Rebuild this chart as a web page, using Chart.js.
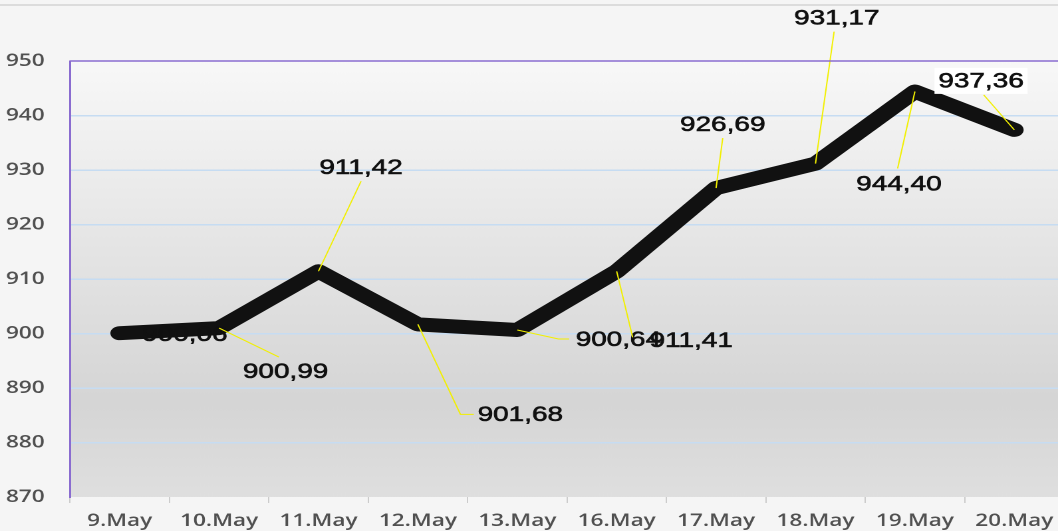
<!DOCTYPE html>
<html>
<head>
  <title>Index</title>
  <script src="https://cdn.jsdelivr.net/npm/chart.js@4"></script>
  <style>
body {
  margin: 0;
  background: #f5f5f5;
  overflow: hidden;
}

.top-rule {
  position: absolute;
  left: 0;
  top: 4px;
  width: 1058px;
  height: 2px;
  background: #dcdcdc;
}

/* the reference is stretched sideways, so the canvas is drawn narrow and widened */
.chart-container {
  position: absolute;
  left: 0;
  top: 0;
  width: 807px;
  height: 531px;
  transform: scaleX(1.33);
  transform-origin: 0 0;
}
  </style>
</head>
<body>
  <div class="top-rule"></div>
  <div class="chart-container">
    <canvas id="priceChart"></canvas>
  </div>
  <script type="text/javascript">
    var days = ['9.May', '10.May', '11.May', '12.May', '13.May', '16.May', '17.May', '18.May', '19.May', '20.May'];
    var prices = [900.06, 900.99, 911.42, 901.68, 900.64, 911.41, 926.69, 931.17, 944.40, 937.36];
    var yTicks = [870, 880, 890, 900, 910, 920, 930, 940, 950];

    // where each value label sits relative to its point: label centre, leader bend, leader end
    var labelLayout = [
      { label: [49, 1] },
      { label: [50, 43], lead: [[45, 29]] },
      { label: [32, -104], lead: [[32, -90]] },
      { label: [77, 90], lead: [[32, 90], [42, 90]] },
      { label: [76, 9], lead: [[31, 9], [39, 9]] },
      { label: [56, 69], lead: [[12, 66]] },
      { label: [5, -64], lead: [[5, -50]] },
      { label: [16, -146], lead: [[14, -132]] },
      { label: [-12, 92], lead: [[-13, 77]] },
      { label: [-25, -49], lead: [[-23, -35]], box: true }
    ];

    function fmt(v) {
      return v.toFixed(2).replace('.', ',');
    }

    var plotBackground = {
      id: 'plotBackground',
      beforeDraw: function(chart) {
        var a = chart.chartArea;
        var ctx = chart.ctx;
        var g = ctx.createLinearGradient(0, a.top, 0, a.bottom);
        g.addColorStop(0, '#f8f8f8');
        g.addColorStop(0.78, '#d5d5d5');
        g.addColorStop(1, '#dfdfdf');
        ctx.save();
        ctx.fillStyle = g;
        ctx.fillRect(a.left, a.top, a.right - a.left, a.bottom - a.top);
        ctx.restore();
      },
      afterDraw: function(chart) {
        var a = chart.chartArea;
        var ctx = chart.ctx;
        ctx.save();
        ctx.strokeStyle = '#8a6cd0';
        ctx.lineWidth = 1.5;
        ctx.beginPath();
        ctx.moveTo(a.left, a.top);
        ctx.lineTo(a.right + 2, a.top);
        ctx.stroke();
        ctx.restore();
      }
    };

    var valueLabels = {
      id: 'valueLabels',
      afterDatasetsDraw: function(chart) {
        var ctx = chart.ctx;
        var pts = chart.getDatasetMeta(0).data;
        ctx.save();
        ctx.font = '21px "Liberation Sans", Arial, sans-serif';
        ctx.textAlign = 'center';
        ctx.textBaseline = 'middle';
        pts.forEach(function(p, i) {
          var l = labelLayout[i];
          if (l.lead) {
            ctx.strokeStyle = '#f2f000';
            ctx.lineWidth = 1;
            ctx.beginPath();
            ctx.moveTo(p.x, p.y);
            l.lead.forEach(function(q) {
              ctx.lineTo(p.x + q[0], p.y + q[1]);
            });
            ctx.stroke();
          }
          var cx = p.x + l.label[0];
          var cy = p.y + l.label[1];
          if (l.box) {
            ctx.fillStyle = '#ffffff';
            ctx.fillRect(cx - 35, cy - 13, 70, 26);
          }
          ctx.fillStyle = '#111111';
          ctx.strokeStyle = '#111111';
          ctx.lineWidth = 0.6;
          ctx.fillText(fmt(prices[i]), cx, cy + 1);
          ctx.strokeText(fmt(prices[i]), cx, cy + 1);
        });
        ctx.restore();
      }
    };

    var ctx = document.getElementById('priceChart').getContext('2d');
    var priceChart = new Chart(ctx, {
      type: 'line',
      data: {
        labels: days,
        datasets: [{
          data: prices,
          borderColor: '#111111',
          borderWidth: 14,
          borderCapStyle: 'round',
          borderJoinStyle: 'round',
          pointRadius: 0,
          tension: 0
        }]
      },
      options: {
        responsive: true,
        maintainAspectRatio: false,
        animation: false,
        devicePixelRatio: 2,
        layout: { padding: { top: 61, right: 1, bottom: 0, left: 0 } },
        plugins: {
          legend: { display: false },
          tooltip: { enabled: false }
        },
        scales: {
          x: {
            offset: true,
            afterFit: function(scale) { scale.height = 34; },
            grid: {
              offset: true,
              drawOnChartArea: false,
              tickLength: 6,
              color: '#cccccc'
            },
            border: { display: false },
            ticks: {
              padding: 8,
              maxRotation: 0,
              autoSkip: false,
              color: '#505050',
              font: { family: '"Open Sans", sans-serif', size: 17, weight: '600' }
            }
          },
          y: {
            min: 870,
            max: 950,
            afterFit: function(scale) { scale.width = 52.6; },
            afterBuildTicks: function(scale) {
              scale.ticks = yTicks.map(function(v) { return { value: v }; });
            },
            grid: {
              drawTicks: false,
              color: function(c) {
                var v = c.tick ? c.tick.value : 0;
                return (v === 870 || v === 950) ? 'rgba(0,0,0,0)' : '#c6dcf2';
              },
              lineWidth: 1.5
            },
            border: { color: '#8a6cd0', width: 1.5 },
            ticks: {
              padding: 19,
              color: '#505050',
              font: { family: '"Open Sans", sans-serif', size: 17, weight: '600' }
            }
          }
        }
      },
      plugins: [plotBackground, valueLabels]
    });
  </script>
</body>
</html>
